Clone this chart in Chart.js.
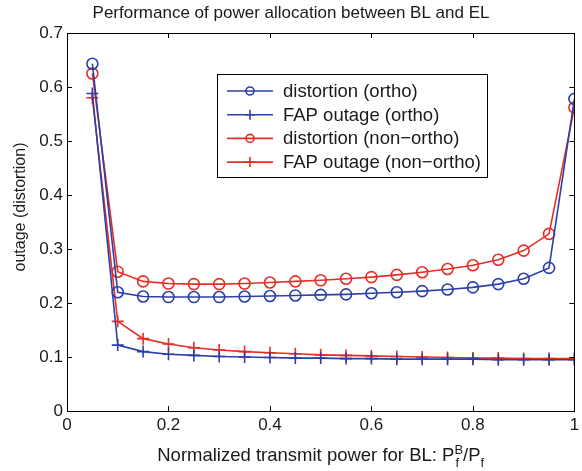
<!DOCTYPE html>
<html>
<head>
<meta charset="utf-8">
<script src="https://cdn.jsdelivr.net/npm/chart.js@4.4.1/dist/chart.umd.min.js"></script>
<style>
html,body{margin:0;padding:0;background:#fff;}
#wrap{width:582px;height:471px;position:relative;}
</style>
</head>
<body>
<div id="wrap"><canvas id="c" width="582" height="471"></canvas></div>
<script>
const xValues = [0.05,0.1,0.15,0.2,0.25,0.3,0.35,0.4,0.45,0.5,0.55,0.6,0.65,0.7,0.75,0.8,0.85,0.9,0.95,1.0];
const distortionOrtho = [0.643,0.220,0.212,0.211,0.211,0.211,0.212,0.213,0.214,0.215,0.216,0.218,0.220,0.222,0.225,0.229,0.235,0.245,0.265,0.578];
const fapOrtho = [0.588,0.122,0.110,0.105,0.103,0.101,0.100,0.099,0.098,0.098,0.097,0.097,0.096,0.096,0.096,0.096,0.095,0.095,0.095,0.095];
const distortionNonOrtho = [0.625,0.258,0.240,0.236,0.235,0.235,0.236,0.238,0.240,0.242,0.245,0.248,0.252,0.257,0.263,0.270,0.280,0.297,0.328,0.562];
const fapNonOrtho = [0.580,0.166,0.134,0.124,0.117,0.113,0.110,0.108,0.106,0.104,0.103,0.102,0.101,0.100,0.099,0.098,0.098,0.097,0.097,0.097];
const seriesNames = ['distortion (ortho)','FAP outage (ortho)','distortion (non\u2212ortho)','FAP outage (non\u2212ortho)'];
const xTicks = [0,0.2,0.4,0.6,0.8,1];
const yTicks = [0,0.1,0.2,0.3,0.4,0.5,0.6,0.7];
const titleText = 'Performance of power allocation between BL and EL';
const yTitle = 'outage (distortion)';

const BLUE = 'rgb(44,64,168)';
const RED = 'rgb(232,44,38)';
const FONT = '"Liberation Sans", Arial, sans-serif';

function pts(ys){ return xValues.map((x,i)=>({x:x,y:ys[i]})); }
const styles = [
  {color:BLUE, marker:'circle'},
  {color:BLUE, marker:'cross'},
  {color:RED, marker:'circle'},
  {color:RED, marker:'cross'}
];
const allSeries = [distortionOrtho, fapOrtho, distortionNonOrtho, fapNonOrtho];
const datasets = allSeries.map((s,i)=>({
  label: seriesNames[i],
  data: pts(s),
  borderColor: styles[i].color,
  backgroundColor: 'rgba(0,0,0,0)',
  borderWidth: 1.6,
  pointStyle: styles[i].marker,
  pointRadius: styles[i].marker==='circle' ? 5.5 : 6,
  pointBorderWidth: 1.6,
  pointBorderColor: styles[i].color,
  pointBackgroundColor: 'rgba(0,0,0,0)',
  tension: 0
}));

const framePlugin = {
  id:'frame',
  afterDraw(chart){
    const ctx = chart.ctx, a = chart.chartArea;
    const xs = chart.scales.x, ys = chart.scales.y;
    ctx.save();
    ctx.strokeStyle = '#000';
    ctx.lineWidth = 1;
    ctx.strokeRect(Math.round(a.left)+0.5, Math.round(a.top)+0.5, Math.round(a.right-a.left), Math.round(a.bottom-a.top));
    ctx.beginPath();
    const tl = 5;
    xTicks.forEach(v=>{
      const px = Math.round(xs.getPixelForValue(v))+0.5;
      ctx.moveTo(px, a.bottom); ctx.lineTo(px, a.bottom-tl);
      ctx.moveTo(px, a.top); ctx.lineTo(px, a.top+tl);
    });
    yTicks.forEach(v=>{
      const py = Math.round(ys.getPixelForValue(v))+0.5;
      ctx.moveTo(a.left, py); ctx.lineTo(a.left+tl, py);
      ctx.moveTo(a.right, py); ctx.lineTo(a.right-tl, py);
    });
    ctx.stroke();

    // tick labels
    ctx.fillStyle = '#1a1a1a';
    ctx.font = '17px ' + FONT;
    ctx.textAlign = 'center'; ctx.textBaseline = 'top';
    xTicks.forEach(v=>{
      ctx.fillText(String(v), xs.getPixelForValue(v), a.bottom+6);
    });
    ctx.textAlign = 'right'; ctx.textBaseline = 'middle';
    yTicks.forEach(v=>{
      ctx.fillText(String(v), a.left-4, ys.getPixelForValue(v));
    });

    // title
    ctx.textAlign = 'center'; ctx.textBaseline = 'alphabetic';
    ctx.font = '17px ' + FONT;
    ctx.fillText(titleText, 291, 18);

    // y title
    ctx.save();
    ctx.translate(25, 207);
    ctx.rotate(-Math.PI/2);
    ctx.textAlign='center'; ctx.textBaseline='alphabetic';
    ctx.font = '16px ' + FONT;
    ctx.fillText(yTitle, 0, 0);
    ctx.restore();

    // x title with sub/superscripts
    const big = '18.5px ' + FONT;
    const small = '13px ' + FONT;
    ctx.textAlign='left'; ctx.textBaseline='alphabetic';
    const base = 'Normalized transmit power for BL: P';
    ctx.font = big;
    const wBase = ctx.measureText(base).width;
    const wMid = ctx.measureText('/P').width;
    ctx.font = small;
    const wSup = ctx.measureText('B').width;
    const wSub = ctx.measureText('f').width;
    const total = wBase + wSup + wMid + wSub;
    let x0 = (a.left+a.right)/2 - total/2;
    const yb = 461;
    ctx.font = big;
    ctx.fillText(base, x0, yb); x0 += wBase;
    ctx.font = small;
    ctx.fillText('B', x0, yb-7);
    ctx.fillText('f', x0+1, yb+6);
    x0 += wSup;
    ctx.font = big;
    ctx.fillText('/P', x0, yb); x0 += wMid;
    ctx.font = small;
    ctx.fillText('f', x0, yb+6);

    // legend
    const lx = 217, ly = 74, lw = 270, lh = 103;
    ctx.fillStyle = '#fff';
    ctx.fillRect(lx, ly, lw, lh);
    ctx.strokeStyle = '#000'; ctx.lineWidth = 1;
    ctx.strokeRect(lx+0.5, ly+0.5, lw, lh);
    ctx.font = '18.5px ' + FONT;
    ctx.textBaseline = 'middle';
    chart.data.datasets.forEach((ds,i)=>{
      const yy = 91 + i*23.7;
      ctx.strokeStyle = ds.borderColor; ctx.lineWidth = 1.6;
      ctx.beginPath(); ctx.moveTo(227, yy); ctx.lineTo(273, yy); ctx.stroke();
      ctx.beginPath();
      if (ds.pointStyle==='circle'){ ctx.arc(250, yy, 4, 0, Math.PI*2); }
      else { ctx.moveTo(250, yy-5); ctx.lineTo(250, yy+5); ctx.moveTo(245, yy); ctx.lineTo(255, yy); }
      ctx.stroke();
      ctx.fillStyle = '#1a1a1a';
      ctx.fillText(ds.label, 283, yy+1);
    });
    ctx.restore();
  }
};

new Chart(document.getElementById('c'), {
  type: 'line',
  data: { datasets: datasets },
  options: {
    responsive: false,
    animation: false,
    layout: { padding: { top: 33, right: 6, left: 0, bottom: 0 } },
    plugins: { legend: { display:false }, tooltip: { enabled:false }, title: { display:false } },
    scales: {
      x: {
        type:'linear', min:0, max:1,
        grid:{ display:false },
        border:{ display:false },
        ticks:{ display:false },
        afterFit(s){ s.height = 60; }
      },
      y: {
        type:'linear', min:0, max:0.7,
        grid:{ display:false },
        border:{ display:false },
        ticks:{ display:false },
        afterFit(s){ s.width = 67; }
      }
    }
  },
  plugins: [framePlugin]
});
</script>
</body>
</html>
